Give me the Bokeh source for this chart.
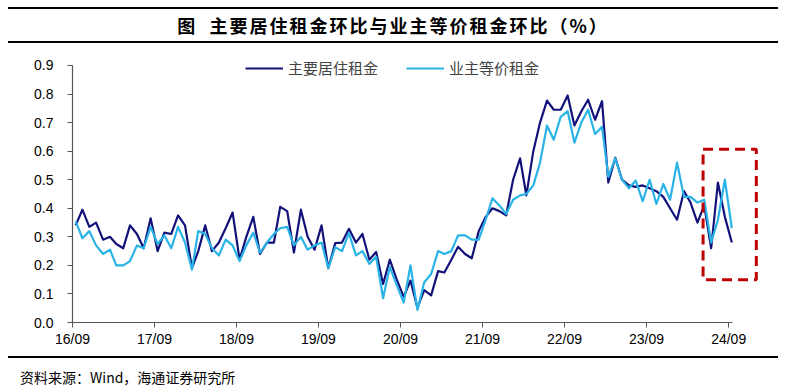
import pandas as pd
from bokeh.plotting import figure
from bokeh.models import (Range1d, FixedTicker, NumeralTickFormatter, Legend, LegendItem,
                          BoxAnnotation, Div, ColumnDataSource)
from bokeh.layouts import column
from bokeh.embed import file_html
from bokeh.resources import INLINE

# ---------------- data (monthly, 2016-09 .. 2024-09, % m/m) ----------------
first_month = "2016-09-01"
series_names = ["主要居住租金", "业主等价租金"]
rent_primary = [
    0.34, 0.395, 0.335, 0.35, 0.29, 0.30, 0.275, 0.26, 0.34, 0.31, 0.26, 0.365,
    0.25, 0.315, 0.31, 0.375, 0.34, 0.19, 0.25, 0.34, 0.25, 0.28, 0.33, 0.385,
    0.22, 0.30, 0.37, 0.24, 0.28, 0.28, 0.405, 0.39, 0.245, 0.395, 0.30, 0.255,
    0.34, 0.19, 0.278, 0.28, 0.328, 0.28, 0.31, 0.22, 0.247, 0.135, 0.22, 0.15,
    0.09, 0.147, 0.052, 0.113, 0.095, 0.18, 0.175, 0.22, 0.265, 0.24, 0.225, 0.32,
    0.37, 0.40, 0.39, 0.375, 0.50, 0.575, 0.445, 0.60, 0.70, 0.777, 0.745, 0.745,
    0.795, 0.69, 0.74, 0.78, 0.71, 0.775, 0.49, 0.577, 0.50, 0.48, 0.475, 0.48,
    0.47, 0.46, 0.44, 0.40, 0.36, 0.46, 0.42, 0.35, 0.41, 0.26, 0.49, 0.37,
    0.28,
]
oer = [
    0.355, 0.295, 0.32, 0.27, 0.24, 0.255, 0.20, 0.20, 0.215, 0.27, 0.26, 0.335,
    0.275, 0.305, 0.26, 0.335, 0.28, 0.185, 0.32, 0.31, 0.26, 0.235, 0.29, 0.27,
    0.215, 0.27, 0.315, 0.245, 0.28, 0.31, 0.33, 0.335, 0.27, 0.30, 0.255, 0.27,
    0.28, 0.19, 0.264, 0.25, 0.313, 0.235, 0.25, 0.205, 0.23, 0.085, 0.195, 0.13,
    0.07, 0.20, 0.044, 0.14, 0.17, 0.25, 0.24, 0.25, 0.305, 0.305, 0.29, 0.29,
    0.36, 0.435, 0.41, 0.38, 0.43, 0.445, 0.45, 0.48, 0.56, 0.69, 0.64, 0.72,
    0.74, 0.63, 0.70, 0.745, 0.66, 0.685, 0.51, 0.575, 0.50, 0.47, 0.497, 0.425,
    0.50, 0.415, 0.485, 0.43, 0.56, 0.44, 0.44, 0.42, 0.43, 0.28, 0.36, 0.50,
    0.33,
]
tick_years = [2016, 2017, 2018, 2019, 2020, 2021, 2022, 2023, 2024]
tick_labels = ["16/09", "17/09", "18/09", "19/09", "20/09", "21/09", "22/09", "23/09", "24/09"]
y_ticks = [0.0, 0.1, 0.2, 0.3, 0.4, 0.5, 0.6, 0.7, 0.8, 0.9]

title_text = "图&nbsp;&nbsp;主要居住租金环比与业主等价租金环比（%）"
source_text = "资料来源：Wind，海通证券研究所"

# ---------------- build ----------------
months = pd.date_range(first_month, periods=len(rent_primary), freq="MS")
dates = months + pd.Timedelta(days=14)   # monthly values drawn mid-month
src = ColumnDataSource(dict(date=dates, rent=rent_primary, oer=oer))

NAVY = "#12127A"
LIGHT = "#29B3E6"
CJK = "Noto Sans CJK SC"
LAT = "Liberation Sans"

W = 786
x_start = pd.Timestamp(first_month)
axis_end = pd.Timestamp("2024-09-18")
# frame is wider than the axis so the highlight box can sit to its right
x_end = x_start + (axis_end - x_start) * (692 / 660)

p = figure(width=W, height=313, x_axis_type="datetime", title=None,
           x_range=Range1d(x_start, x_end), y_range=Range1d(0, 0.935),
           output_backend="svg", toolbar_location=None, margin=0,
           min_border_left=72, min_border_right=22, min_border_top=12, min_border_bottom=34)
p.outline_line_color = None
p.xgrid.visible = False
p.ygrid.visible = False
p.background_fill_color = "white"
p.border_fill_color = "white"

r1 = p.line("date", "rent", source=src, line_color=NAVY, line_width=2.2, line_join="round")
r2 = p.line("date", "oer", source=src, line_color=LIGHT, line_width=2.2, line_join="round")

tick_ms = [pd.Timestamp(f"{y}-09-01").value // 10**6 for y in tick_years]
p.xaxis.ticker = FixedTicker(ticks=tick_ms)
p.xaxis.major_label_overrides = {float(t): lab for t, lab in zip(tick_ms, tick_labels)}
p.xaxis.bounds = (x_start, axis_end)
p.yaxis.ticker = FixedTicker(ticks=y_ticks)
p.yaxis.formatter = NumeralTickFormatter(format="0.0")
p.yaxis.bounds = (0, 0.9)

for ax in (p.xaxis[0], p.yaxis[0]):
    ax.axis_line_color = "#555555"
    ax.axis_line_width = 1.2
    ax.major_tick_line_color = "#555555"
    ax.major_tick_out = 5
    ax.major_tick_in = 0
    ax.minor_tick_line_color = None
    ax.major_label_text_font = LAT
    ax.major_label_text_font_size = "14px"
    ax.major_label_text_color = "black"
p.yaxis.major_label_standoff = 14
p.xaxis.major_label_standoff = 3

legend = Legend(items=[LegendItem(label=series_names[0], renderers=[r1]),
                       LegendItem(label=series_names[1], renderers=[r2])],
                orientation="horizontal", location=(173, 244),
                padding=0, margin=0, spacing=28, glyph_width=38, glyph_height=20,
                label_height=20, label_standoff=5,
                label_text_font=CJK, label_text_font_size="15px",
                border_line_color=None, background_fill_alpha=0)
p.add_layout(legend, "center")

box = BoxAnnotation(left=pd.Timestamp("2024-05-10"), right=pd.Timestamp("2025-01-02"),
                    bottom=0.15, top=0.607, fill_alpha=0, fill_color=None,
                    line_color="#C00000", line_alpha=1.0, line_width=3, line_dash="10 6")
p.add_layout(box)

rule = '<div style="margin-left:8px;width:770px;height:2px;background:#000;"></div>'
title_html = (
    '<div style="height:7px;"></div>' + rule +
    f'<div style="width:786px;height:32px;text-align:center;font-family:\'{CJK}\';'
    f'font-size:18px;font-weight:bold;letter-spacing:2px;line-height:32px;color:#000;">'
    f'{title_text}</div>' + rule
)
source_html = (
    rule +
    f'<div style="margin-left:20px;margin-top:10px;font-family:\'{CJK}\';font-size:14px;'
    f'line-height:18px;color:#000;white-space:nowrap;">{source_text}</div>'
)
title_div = Div(text=title_html, width=W, height=43, margin=0)
source_div = Div(text=source_html, width=W, height=32, margin=0)

layout = column(title_div, p, source_div, spacing=0, margin=0)

with open("out.html", "w") as f:
    f.write(file_html(layout, INLINE))
